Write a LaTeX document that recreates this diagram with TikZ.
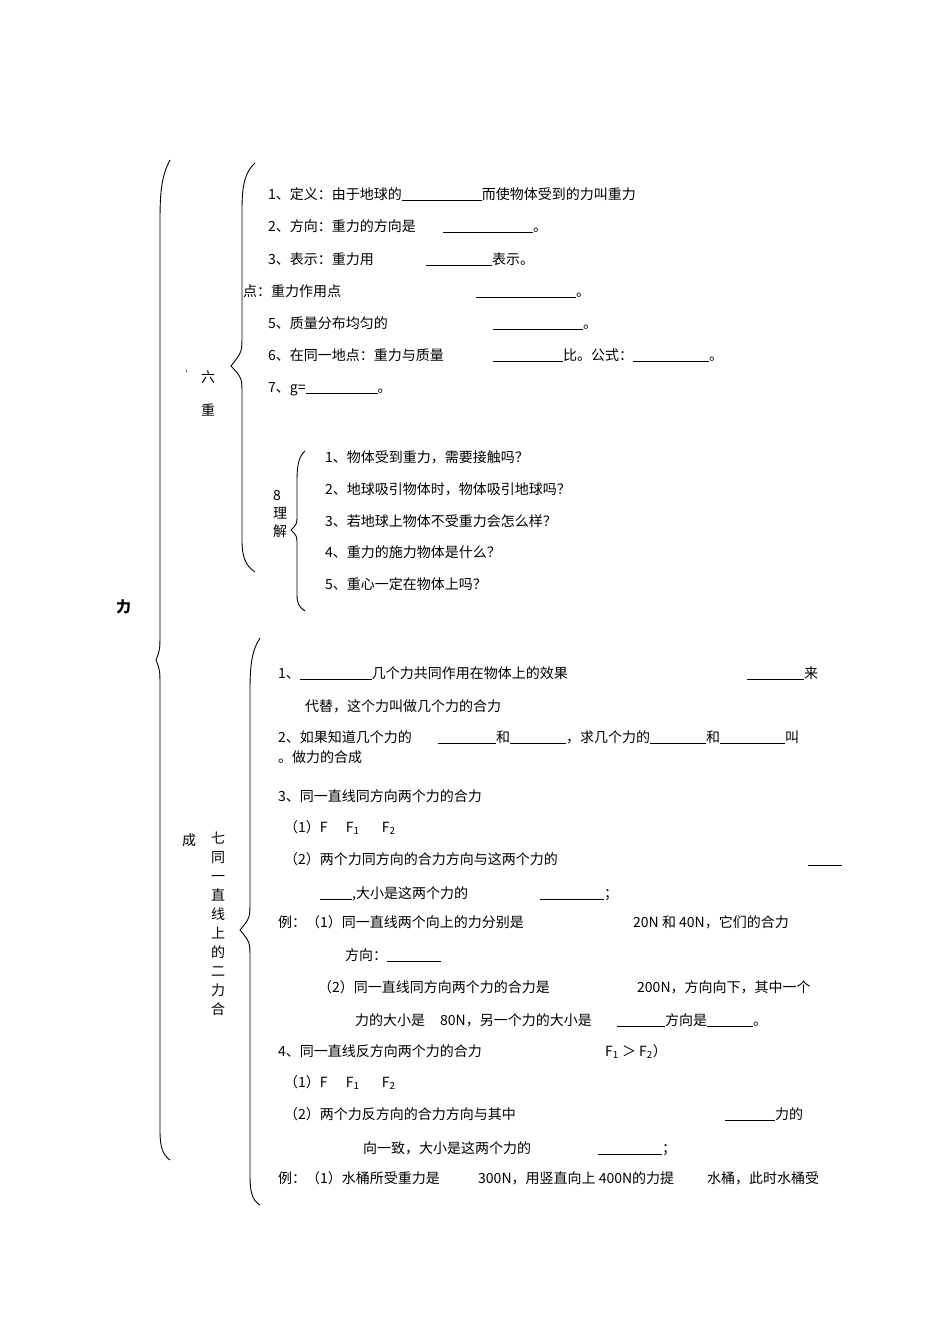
\documentclass[tikz,border=0pt]{standalone}
\usepackage{fontspec}
\setmainfont{Liberation Serif}
\newfontfamily\cjk{Noto Sans CJK SC}
\begin{document}
\begin{tikzpicture}[x=1pt,y=-1pt,
  t/.style={anchor=base west,inner sep=0pt,font=\cjk\fontsize{14}{16}\selectfont},
  br/.style={line width=0.9pt}]
\useasboundingbox (0,0) rectangle (950,1344);
% braces
\draw[br] (170,160) .. controls (162,175) and (160,190) .. (160,220) -- (160,630) .. controls (160,650) .. (156,660) .. controls (160,670) .. (160,690) -- (160,1130) .. controls (160,1148) and (163,1155) .. (170,1160);
\draw[br] (255,163) .. controls (245,172) and (242,185) .. (242,210) -- (242,335) .. controls (242,352) .. (231,366) .. controls (242,378) .. (242,395) -- (242,540) .. controls (242,558) and (246,566) .. (255,572);
\draw[br] (305,451) .. controls (299,456) and (297,465) .. (297,480) -- (297,515) .. controls (297,524) .. (291,530) .. controls (297,536) .. (297,545) -- (297,595) .. controls (297,603) and (299,607) .. (305,611);
\draw[br] (260,638) .. controls (252,650) and (250,665) .. (250,690) -- (250,900) .. controls (250,918) .. (240,930) .. controls (250,942) .. (250,960) -- (250,1175) .. controls (250,1192) and (252,1200) .. (260,1205);
% left labels
\node[t,font=\cjk\fontsize{15}{16}\selectfont\bfseries] (li) at (116,612) {力};
\node[t] (l6) at (201,382) {六};
\node[t] (lz) at (201,415) {重};
\node[t,font=\fontsize{9}{10}\selectfont] (tick) at (185,376) {'};
\node[t] (l8) at (273,500) {8};
\node[t] (l8a) at (273,518) {理};
\node[t] (l8b) at (273,536) {解};
\node[t] (lc) at (182,845) {成};
\node[anchor=north,inner sep=0pt,font=\cjk\fontsize{14}{19}\selectfont,align=center] (l7) at (218,832) {七\\同\\一\\直\\线\\上\\的\\二\\力\\合};
% section 6
\node[t] (a1) at (268,199) {1、定义：由于地球的\underline{\hspace{80pt}}而使物体受到的力叫重力};
\node[t] (a2) at (268,231) {2、方向：重力的方向是};
\node[t] (a2b) at (443,231) {\underline{\hspace{90pt}}。};
\node[t] (a3) at (268,264) {3、表示：重力用};
\node[t] (a3b) at (426,264) {\underline{\hspace{66pt}}表示。};
\node[t] (a4) at (243,296) {点：重力作用点};
\node[t] (a4b) at (476,296) {\underline{\hspace{100pt}}。};
\node[t] (a5) at (268,328) {5、质量分布均匀的};
\node[t] (a5b) at (493,328) {\underline{\hspace{90pt}}。};
\node[t] (a6) at (268,360) {6、在同一地点：重力与质量};
\node[t] (a6b) at (493,360) {\underline{\hspace{70pt}}比。公式：\underline{\hspace{76pt}}。};
\node[t] (a7) at (268,392) {7、g=\underline{\hspace{72pt}}。};
\node[t] (b1) at (325,462) {1、物体受到重力，需要接触吗？};
\node[t] (b2) at (325,494) {2、地球吸引物体时，物体吸引地球吗？};
\node[t] (b3) at (325,526) {3、若地球上物体不受重力会怎么样？};
\node[t] (b4) at (325,557) {4、重力的施力物体是什么？};
\node[t] (b5) at (325,589) {5、重心一定在物体上吗？};
% section 7
\node[t] (c1) at (278,678) {1、\underline{\hspace{72pt}}几个力共同作用在物体上的效果};
\node[t] (c1b) at (747,678) {\underline{\hspace{57pt}}来};
\node[t] (c1c) at (305,711) {代替，这个力叫做几个力的合力};
\node[t] (c2) at (278,742) {2、如果知道几个力的};
\node[t] (c2b) at (438,742) {\underline{\hspace{58pt}}和\underline{\hspace{56pt}}，求几个力的\underline{\hspace{56pt}}和\underline{\hspace{65pt}}叫};
\node[t] (c2c) at (278,762) {。做力的合成};
\node[t] (c3) at (278,801) {3、同一直线同方向两个力的合力};
\node[t] (c31) at (284,832) {（1）F \hspace{12pt} F\textsubscript{1} \hspace{16pt} F\textsubscript{2}};
\node[t] (c32) at (284,864) {（2）两个力同方向的合力方向与这两个力的};
\node[t] (c32b) at (808,864) {\underline{\hspace{34pt}}};
\node[t] (c32c) at (320,898) {\underline{\hspace{32pt}},大小是这两个力的};
\node[t] (c32d) at (540,898) {\underline{\hspace{64pt}}；};
\node[t] (c3e) at (278,927) {例：（1）同一直线两个向上的力分别是};
\node[t] (c3f) at (633,927) {20N 和 40N，它们的合力};
\node[t] (c3g) at (345,960) {方向：\rule[-2pt]{54pt}{0.8pt}};
\node[t] (c3h) at (318,992) {（2）同一直线同方向两个力的合力是};
\node[t] (c3i) at (637,992) {200N，方向向下，其中一个};
\node[t] (c3j) at (355,1025) {力的大小是};
\node[t] (c3k) at (440,1025) {80N，另一个力的大小是};
\node[t] (c3l) at (617,1025) {\rule[-2pt]{48pt}{0.8pt}方向是\rule[-2pt]{46pt}{0.8pt}。};
\node[t] (c4) at (278,1056) {4、同一直线反方向两个力的合力};
\node[t] (c4b) at (605,1056) {F\textsubscript{1} ＞ F\textsubscript{2}）};
\node[t] (c41) at (284,1087) {（1）F \hspace{12pt} F\textsubscript{1} \hspace{16pt} F\textsubscript{2}};
\node[t] (c42) at (284,1119) {（2）两个力反方向的合力方向与其中};
\node[t] (c42b) at (725,1119) {\underline{\hspace{50pt}}力的};
\node[t] (c42c) at (363,1153) {向一致，大小是这两个力的};
\node[t] (c42d) at (598,1153) {\underline{\hspace{64pt}}；};
\node[t] (c4e) at (278,1183) {例：（1）水桶所受重力是};
\node[t] (c4f) at (478,1183) {300N，用竖直向上 400N的力提};
\node[t] (c4g) at (707,1183) {水桶，此时水桶受};
\end{tikzpicture}
\end{document}
